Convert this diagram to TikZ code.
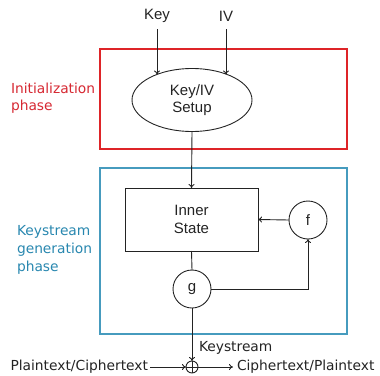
\documentclass[tikz,border=0pt]{standalone}
\usepackage{fontspec}
\setmainfont{Liberation Sans}
\newfontfamily\dvs{DejaVu Sans}
\usetikzlibrary{arrows.meta,shapes.geometric}
\definecolor{phred}{RGB}{222,36,40}
\definecolor{phredtxt}{RGB}{214,40,50}
\definecolor{phblue}{RGB}{70,155,190}
\definecolor{phbluetxt}{RGB}{40,135,175}
\definecolor{ink}{RGB}{35,35,35}
\begin{document}
\begin{tikzpicture}[x=1pt,y=-1pt,
  every node/.style={inner sep=0pt,outer sep=0pt},
  lbl/.style={text=ink,font=\fontsize{15}{17}\selectfont},
  side/.style={font=\dvs\fontsize{13.8}{17.6}\selectfont,align=left},
  blk/.style={draw=ink,text=ink,line width=0.9pt,font=\fontsize{15}{17.5}\selectfont,align=center},
  arr/.style={draw=ink,-{To[length=4pt,width=6pt]},line width=0.9pt},
  ln/.style={draw=ink,line width=0.9pt}]
\useasboundingbox (0,0) rectangle (380,375);
% phase boxes
\draw[phred,line width=2pt] (100,49) rectangle (347,149);
\draw[phblue,line width=1.6pt] (100,168) rectangle (347,334);
\node[side,text=phredtxt,anchor=west] (initlbl) at (11,98) {Initialization\\phase};
\node[side,text=phbluetxt,anchor=west] (kglbl) at (17,250) {Keystream\\generation\\phase};
% inputs
\node[lbl] (key) at (157,16) {Key};
\node[lbl] (iv) at (226,16) {IV};
% setup
\node[blk,ellipse,minimum width=120pt,minimum height=63pt] (setup) at (192,100) {Key/IV\\Setup};
\draw[arr] (157,29) -- (key |- setup.144);
\draw[arr] (226,29) -- (iv |- setup.36);
% inner state
\node[blk,rectangle,minimum width=133pt,minimum height=63pt] (state) at (191.5,219.5) {Inner\\State};
\node[blk,circle,minimum size=38pt] (f) at (308,220) {f};
\node[blk,circle,minimum size=38pt] (g) at (192,289) {g};
\draw[arr] (setup.south) -- (state.north);
\draw[ln] (state.south) -- (g.north);
\draw[arr] (f.west) -- (state.east);
\draw[arr] (g.east) -| (f.south);
% xor
\node[draw=ink,circle,line width=0.9pt,minimum size=12pt] (xor) at (192,367) {};
\draw[ln] (xor.north) -- (xor.south) (xor.west) -- (xor.east);
\draw[arr] (g.south) -- (xor.north);
\node[side,text=ink,anchor=west] (ks) at (199,348) {Keystream};
\node[side,text=ink,anchor=east] (pt) at (148,367) {Plaintext/Ciphertext};
\node[side,text=ink,anchor=west] (ct) at (237,367) {Ciphertext/Plaintext};
\draw[arr] (pt.east) ++(2,0) coordinate (pts) (pts) -- (xor.west);
\draw[arr] (xor.east) -- ([xshift=-4pt]ct.west);
\end{tikzpicture}
\end{document}
